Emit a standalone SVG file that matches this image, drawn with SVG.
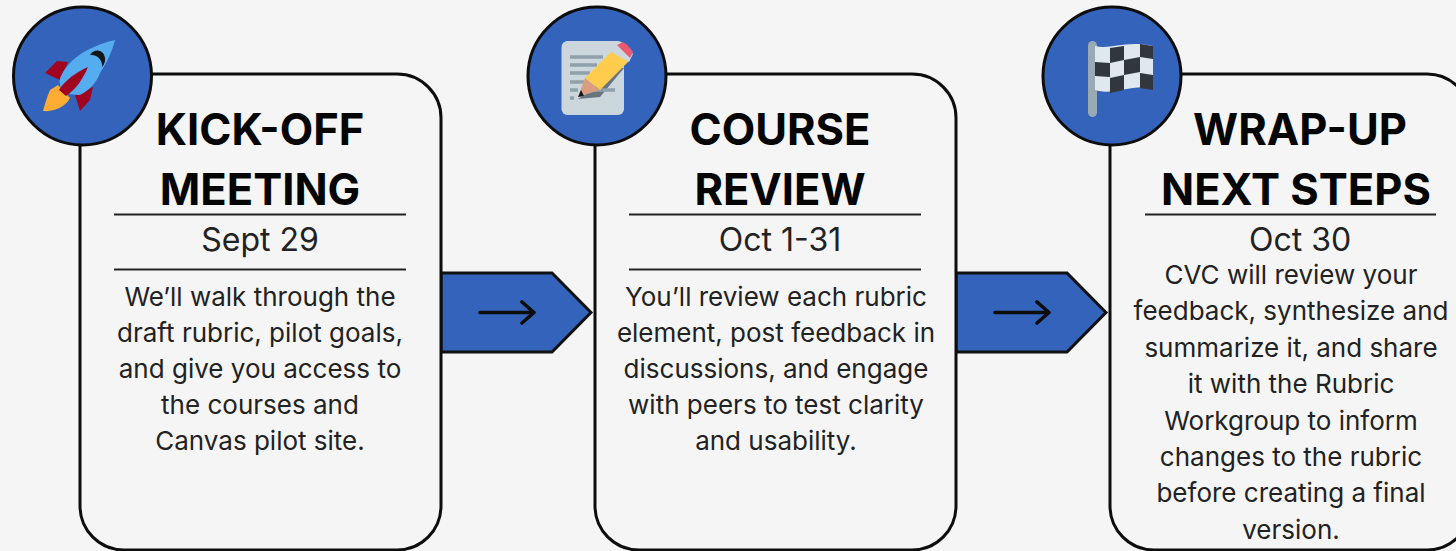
<svg xmlns="http://www.w3.org/2000/svg" width="1456" height="551" viewBox="0 0 1456 551">
<style>
.card{fill:#f5f5f5;stroke:#0d0d0d;stroke-width:3}
.disc{fill:#3463bb;stroke:#0d0d0d;stroke-width:3}
.rule{stroke:#222;stroke-width:2.200}
.arrow{fill:#3463bb;stroke:#111;stroke-width:3;stroke-linejoin:miter}
.glyph{fill:none;stroke:#0d0d0d;stroke-width:3.600;stroke-linecap:round;stroke-linejoin:round}
text{font-family:"Inter","Liberation Sans",sans-serif;text-anchor:middle;fill:#111}
.h{font-size:43.500px;font-weight:700;fill:#050505}
.d{font-size:32px;fill:#222}
.b{font-size:26px;fill:#222}
</style>
<rect width="1456" height="551" fill="#f5f5f5"/>
<g id="connectors">
<path class="arrow" d="M441 273H552L591 312.500L552 352H441Z"/>
<path class="glyph" d="M480 312.500H533M522 302L534 312.500L522 323"/>
<path class="arrow" d="M956 273H1067L1106 312.500L1067 352H956Z"/>
<path class="glyph" d="M995 312.500H1048M1037 302L1049 312.500L1037 323"/>
</g>
<g id="node-kickoff">
<rect class="card" x="80" y="74" width="361" height="476" rx="44"/>
<circle class="disc" cx="82.500" cy="76" r="69"/>
<g id="rocket">
<path d="M68 62L57 61L45 73L60 80Z" fill="#a0041e"/>
<path d="M75 95L93 87L90 100L80 111Z" fill="#a0041e"/>
<path d="M50 90C47 97 45 104 43 111C52 112 65 108 70 98L58 85Z" fill="#ffac33"/>
<path d="M115 40C101 43 84 50 73 60C63 69 58 80 60 84C60 90 66 95 80 95C90 90 97 82 100 73C107 62 112 52 115 40Z" fill="#55acee"/>
<path d="M88 67C78 71 65 80 59 90L66 96C76 89 83 79 88 67Z" fill="#a0041e"/>
<path d="M90 55C93 50 99 49 103 53C106 58 106 62 102 67C103 60 97 54 90 55Z" fill="#14171a"/>
</g>
<text class="h" x="260" y="144.500">KICK-OFF</text>
<text class="h" x="260" y="204.500">MEETING</text>
<path class="rule" d="M114 214.500H406M114 269.500H406"/>
<text class="d" x="260" y="251">Sept 29</text>
<text class="b" x="260" y="306">We’ll walk through the</text>
<text class="b" x="260" y="342">draft rubric, pilot goals,</text>
<text class="b" x="260" y="378">and give you access to</text>
<text class="b" x="260" y="414">the courses and</text>
<text class="b" x="260" y="450">Canvas pilot site.</text>
</g>
<g id="node-review">
<rect class="card" x="595" y="74" width="361" height="476" rx="44"/>
<circle class="disc" cx="597" cy="76" r="69"/>
<g id="memo">
<rect x="561.500" y="41" width="62.500" height="74" rx="6" fill="#ccd6dd"/>
<path d="M570 57H603M570 65H597M570 73H590M570 82H584M570 90H578M570 98H574" stroke="#8fa1ac" stroke-width="3.500" fill="none"/>
<path d="M578 99L600 97L624 68L615 66L592 90Z" fill="#66757f"/>
<path d="M594 90H615" stroke="#8fa1ac" stroke-width="3.500" fill="none"/>
<path d="M585 78L611 52L630 60L600 90Z" fill="#ffcc4d"/>
<path d="M585 78L600 90L578 97Z" fill="#d99e82"/>
<path d="M581 90L584 96L578 97Z" fill="#14171a"/>
<path d="M611 52L620 43L633 54L629 62Z" fill="#ccd6dd"/>
<path d="M617 45L623 42C627 44 631 49 633 52L630 58Z" fill="#ea596e"/>
</g>
<text class="h" x="780" y="144.500">COURSE</text>
<text class="h" x="780" y="204.500">REVIEW</text>
<path class="rule" d="M629 214.500H921M629 269.500H921"/>
<text class="d" x="780" y="251">Oct 1-31</text>
<text class="b" x="776" y="306">You’ll review each rubric</text>
<text class="b" x="776" y="342">element, post feedback in</text>
<text class="b" x="776" y="378">discussions, and engage</text>
<text class="b" x="776" y="414">with peers to test clarity</text>
<text class="b" x="776" y="450">and usability.</text>
</g>
<g id="node-wrapup">
<rect class="card" x="1110" y="74" width="361" height="476" rx="44"/>
<circle class="disc" cx="1112" cy="76" r="69"/>
<g id="flag">
<rect x="1088" y="41" width="9" height="76" rx="4.500" fill="#99aab5"/>
<path d="M1095 46C1110 50 1125 40 1153 46V88C1130 84 1112 96 1095 90Z" fill="#e1e8ed"/>
<path d="M1110 48L1124 46V60L1110 63ZM1140 44L1153 46V59L1140 57ZM1095 62L1110 63V77L1095 76ZM1124 60L1140 57V72L1124 75ZM1110 78L1124 75V90L1110 93ZM1140 73L1153 75V90L1140 88Z" fill="#31373d"/>
</g>
<text class="h" x="1300" y="144.500">WRAP-UP</text>
<text class="h" x="1296" y="204.500">NEXT STEPS</text>
<path class="rule" d="M1145 214.500H1436"/>
<text class="d" x="1300" y="251">Oct 30</text>
<text class="b" x="1291" y="284">CVC will review your</text>
<text class="b" x="1291" y="320">feedback, synthesize and</text>
<text class="b" x="1291" y="357">summarize it, and share</text>
<text class="b" x="1291" y="393">it with the Rubric</text>
<text class="b" x="1291" y="430">Workgroup to inform</text>
<text class="b" x="1291" y="466">changes to the rubric</text>
<text class="b" x="1291" y="502">before creating a final</text>
<text class="b" x="1291" y="539">version.</text>
</g>
</svg>
